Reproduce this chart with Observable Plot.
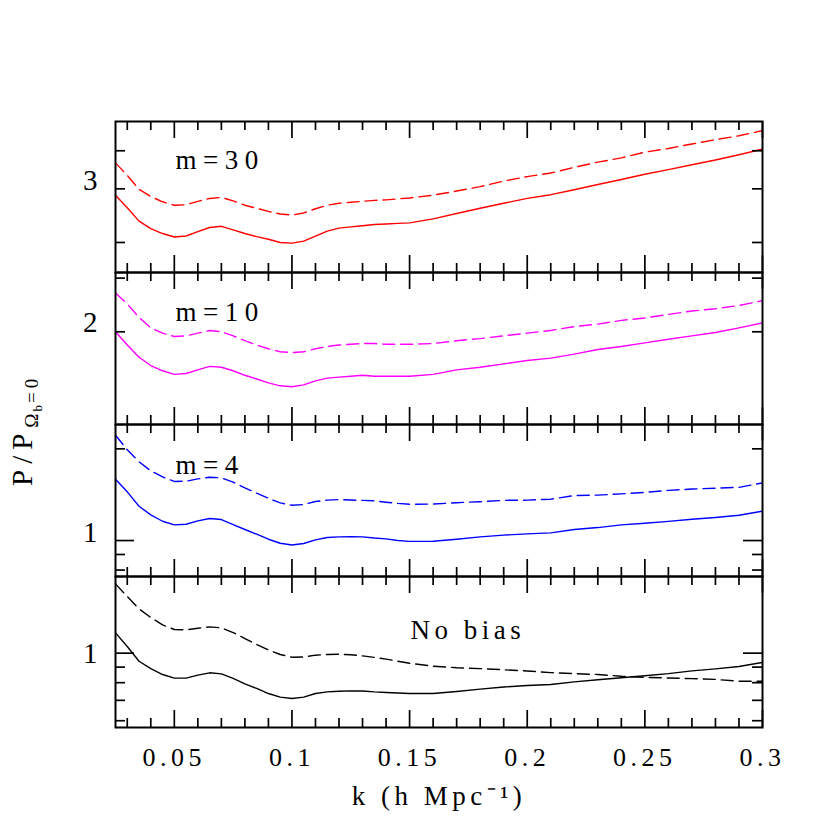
<!DOCTYPE html>
<html><head><meta charset="utf-8">
<script src="https://cdn.jsdelivr.net/npm/d3@7"></script>
<script src="https://cdn.jsdelivr.net/npm/@observablehq/plot@0.6"></script>
<style>
body{margin:0;background:#fff;}
#chart{position:relative;width:830px;height:830px;font-family:"Liberation Serif",serif;}
#chart svg{position:absolute;left:0;overflow:visible;}
</style></head><body><div id="chart"></div>
<script>
// wavenumber k (h/Mpc)
const k = [0.025,0.03,0.035,0.04,0.045,0.05,0.055,0.06,0.065,0.07,0.075,0.08,0.085,0.09,0.095,0.1,0.105,0.11,0.115,0.12,0.125,0.13,0.135,0.14,0.145,0.15,0.16,0.17,0.18,0.19,0.2,0.21,0.22,0.23,0.24,0.25,0.26,0.27,0.28,0.29,0.3];
// m=30
const m30Solid = [2.86,2.60,2.35,2.22,2.14,2.085,2.10,2.17,2.24,2.26,2.20,2.14,2.09,2.05,2.00,1.99,2.02,2.10,2.18,2.23,2.25,2.27,2.29,2.30,2.31,2.32,2.39,2.49,2.59,2.69,2.79,2.87,2.98,3.10,3.22,3.35,3.47,3.60,3.73,3.88,4.05];
const m30Dashed = [3.65,3.32,2.99,2.83,2.72,2.65,2.66,2.73,2.79,2.81,2.74,2.65,2.59,2.53,2.48,2.46,2.50,2.58,2.65,2.69,2.71,2.73,2.75,2.76,2.78,2.80,2.86,2.95,3.05,3.18,3.29,3.38,3.53,3.67,3.79,3.96,4.07,4.21,4.35,4.48,4.66];
// m=10
const m10Solid = [2.00,1.81,1.65,1.55,1.49,1.45,1.46,1.50,1.54,1.53,1.49,1.44,1.40,1.36,1.33,1.32,1.34,1.38,1.41,1.42,1.43,1.44,1.43,1.43,1.43,1.43,1.45,1.50,1.53,1.57,1.61,1.64,1.69,1.75,1.79,1.84,1.89,1.94,1.99,2.06,2.14];
const m10Dashed = [2.68,2.47,2.23,2.06,1.98,1.93,1.94,1.98,2.02,2.00,1.94,1.87,1.81,1.76,1.72,1.71,1.72,1.76,1.79,1.81,1.82,1.83,1.83,1.82,1.82,1.82,1.83,1.87,1.90,1.94,1.98,2.02,2.08,2.12,2.18,2.22,2.28,2.34,2.38,2.44,2.53];
// m=4
const m4Solid = [1.590,1.445,1.296,1.214,1.157,1.126,1.131,1.160,1.181,1.172,1.128,1.087,1.049,1.010,0.980,0.967,0.978,1.005,1.023,1.028,1.029,1.028,1.019,1.013,1.000,0.994,0.995,1.010,1.028,1.042,1.052,1.060,1.087,1.103,1.126,1.140,1.156,1.174,1.190,1.211,1.248];
const m4Dashed = [2.218,1.985,1.813,1.693,1.618,1.563,1.566,1.594,1.614,1.606,1.555,1.489,1.430,1.377,1.329,1.306,1.313,1.343,1.357,1.363,1.358,1.355,1.350,1.336,1.324,1.315,1.318,1.331,1.341,1.355,1.357,1.367,1.405,1.410,1.423,1.439,1.461,1.476,1.485,1.495,1.547];
// no bias
const nbSolid = [1.166,1.052,0.941,0.890,0.851,0.828,0.828,0.847,0.862,0.855,0.826,0.793,0.766,0.737,0.717,0.710,0.717,0.737,0.746,0.750,0.752,0.751,0.746,0.743,0.740,0.737,0.737,0.748,0.762,0.774,0.783,0.789,0.805,0.818,0.830,0.843,0.857,0.875,0.888,0.904,0.932];
const nbDashed = [1.689,1.535,1.398,1.310,1.239,1.196,1.193,1.208,1.220,1.211,1.169,1.117,1.068,1.025,0.990,0.970,0.972,0.985,0.990,0.992,0.988,0.980,0.969,0.956,0.941,0.927,0.906,0.896,0.890,0.882,0.874,0.863,0.857,0.851,0.840,0.833,0.829,0.825,0.820,0.809,0.809];

const panelNames = ["m=30","m=10","m=4","No bias"];
const panelColors = ["#ff0000","#ff00ff","#0000ff","#000000"];
const yDomains = [[1.594,4.99],[0.993,3.13],[0.762,2.404],[0.570,1.786]];
const yMinorTicks = [[2,3,4],[2,3],[2,0.9,0.8],[0.9,0.8,0.7,0.6]];
const yMajorTicks = [[],[],[1],[1]];
const yTickLabels = [[3],[2],[1],[1]];
const xMajorTicks = [0.05,0.1,0.15,0.2,0.25,0.3];
const xMinorTicks = [0.03,0.04,0.06,0.07,0.08,0.09,0.11,0.12,0.13,0.14,0.16,0.17,0.18,0.19,0.21,0.22,0.23,0.24,0.26,0.27,0.28,0.29];
const xTitle = "k (h Mpc\u207B\u00B9)";

const solids = [m30Solid, m10Solid, m4Solid, nbSolid];
const dashes = [m30Dashed, m10Dashed, m4Dashed, nbDashed];

// layout (pixels)
const W = 830, mL = 115, mR = 68, plotW = W - mL - mR;
const panelTop = [121, 272, 424, 576];
const panelH = [151, 152, 152, 151];
const nameDx = [60, 60, 60, 295];
const nameDy = [47, 48, 49, 62];
const nameSpacing = [6.5, 6.5, 6.5, 4.5];
const labelDy = [-8, -9, -8, 1];
const TX = 17, tx = 9, TY = 19, ty = 10, tw = 1.7;

const root = document.getElementById("chart");

for (let i = 0; i < 4; i++) {
  const h = panelH[i], last = i === 3;
  const mT = 2, mB = last ? (W - panelTop[i] - h) : 2;
  const idx = k.map((_, j) => j);
  const marks = [
    Plot.line(idx, {x: k, y: solids[i], stroke: panelColors[i], strokeWidth: 1.4, clip: true}),
    Plot.line(idx, {x: k, y: dashes[i], stroke: panelColors[i], strokeWidth: 1.4, strokeDasharray: "12,6", clip: true}),
    // x ticks top/bottom, inward
    Plot.ruleX(xMinorTicks, {x: d => d, insetBottom: h - tx, strokeWidth: tw}),
    Plot.ruleX(xMinorTicks, {x: d => d, insetTop: h - tx, strokeWidth: tw}),
    Plot.ruleX(xMajorTicks, {x: d => d, insetBottom: h - TX, strokeWidth: tw}),
    Plot.ruleX(xMajorTicks, {x: d => d, insetTop: h - TX, strokeWidth: tw}),
    // y ticks left/right, inward
    Plot.ruleY(yMinorTicks[i], {y: d => d, insetRight: plotW - ty, strokeWidth: tw}),
    Plot.ruleY(yMinorTicks[i], {y: d => d, insetLeft: plotW - ty, strokeWidth: tw}),
    Plot.ruleY(yMajorTicks[i], {y: d => d, insetRight: plotW - TY, strokeWidth: tw}),
    Plot.ruleY(yMajorTicks[i], {y: d => d, insetLeft: plotW - TY, strokeWidth: tw}),
    Plot.frame({stroke: "black", strokeWidth: 2}),
    Plot.text(yTickLabels[i], {text: d => String(d), y: d => d, frameAnchor: "left", dx: -23, dy: labelDy[i], textAnchor: "middle", fontSize: 29, fill: "black"}),
    Plot.text([panelNames[i]], {text: d => d, frameAnchor: "top-left", dx: nameDx[i], dy: nameDy[i], lineAnchor: "bottom", textAnchor: "start", fontSize: 27, fill: "black"})
  ];
  if (last) {
    marks.push(Plot.axisX({ticks: xMajorTicks, tickSize: 0, tickPadding: 20, fontSize: 26, tickFormat: d => String(d), label: null}));
    marks.push(Plot.text([xTitle], {text: d => d, frameAnchor: "bottom", dy: 77, lineAnchor: "bottom", fontSize: 27, fill: "black"}));
  }
  const svg = Plot.plot({
    width: W, height: h + mT + mB,
    marginLeft: mL, marginRight: mR, marginTop: mT, marginBottom: mB,
    x: {domain: [0.025, 0.3], axis: null, label: null},
    y: {type: "log", domain: yDomains[i], axis: null, label: null},
    style: {fontFamily: '"Liberation Serif", serif', background: "transparent", color: "black", letterSpacing: "4.5px"},
    marks
  });
  svg.querySelectorAll("text").forEach(el => {
    if (el.textContent === panelNames[i]) el.setAttribute("letter-spacing", nameSpacing[i] + "px");
  });
  svg.style.top = (panelTop[i] - mT) + "px";
  root.appendChild(svg);
}

// y-axis title P/P_{Omega_b=0}
const ysvg = d3.create("svg").attr("width", 60).attr("height", W).style("top", "0px");
const t = ysvg.append("text")
  .attr("transform", "translate(32,486) rotate(-90)")
  .attr("font-family", '"Liberation Serif", serif')
  .attr("font-size", 29).attr("fill", "black");
t.append("tspan").attr("letter-spacing", "6px").text("P/P");
t.append("tspan").attr("font-size", 19).attr("dy", 6).attr("letter-spacing", "2px").text("\u03A9");
t.append("tspan").attr("font-size", 13).attr("dy", 4).text("b");
t.append("tspan").attr("font-size", 19).attr("dy", -4).attr("letter-spacing", "4px").attr("dx", 2).text("=0");
root.appendChild(ysvg.node());
</script></body></html>
